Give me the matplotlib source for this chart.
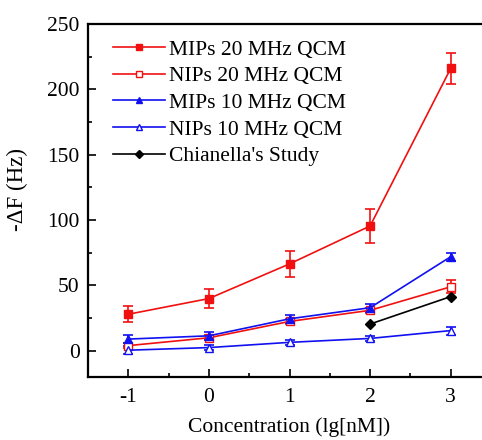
import matplotlib as mpl
mpl.use('Agg')
import matplotlib.pyplot as plt
from matplotlib.ticker import MultipleLocator
from matplotlib.lines import Line2D

plt.rcParams['font.family'] = 'Liberation Serif'
plt.rcParams['font.size'] = 15
plt.rcParams['axes.unicode_minus'] = False

# Concentration (lg[nM])
conc = [-1, 0, 1, 2, 3]
conc_chianella = [2, 3]

mips20 = [28, 40, 66.5, 95.5, 216]
mips20_err = [6, 7, 10, 13, 12]
nips20 = [4, 10, 22.5, 31, 49]
nips20_err = [2, 2, 2, 2, 5]
mips10 = [9, 11.5, 24.5, 33, 72]
mips10_err = [3, 3, 3, 3, 3]
nips10 = [0.5, 2.5, 6.5, 9.5, 15.5]
nips10_err = [3, 2, 2, 2, 3]
chianella = [20.5, 41.5]

legend_labels = ['MIPs 20 MHz QCM', 'NIPs 20 MHz QCM', 'MIPs 10 MHz QCM',
                 'NIPs 10 MHz QCM', "Chianella's Study"]

RED = '#f01010'
BLUE = '#1010f0'

fig = plt.figure(figsize=(4.82, 4.4), dpi=100)
# right spine sits outside the picture, as in the original crop
ax = fig.add_axes([88/482, 63/440, 403/482, 353/440])

common = dict(linewidth=1.2, capsize=3.5, elinewidth=1.2, capthick=1.2, markersize=6)
series = [
    (mips20, mips20_err, RED, 's', None),
    (nips20, nips20_err, RED, 's', 'white'),
    (mips10, mips10_err, BLUE, '^', None),
    (nips10, nips10_err, BLUE, '^', 'white'),
]
handles = []
for (vals, err, col, mk, mfc), lab in zip(series, legend_labels):
    ax.errorbar(conc, vals, yerr=err, color=col, marker=mk,
                mfc=mfc if mfc else col, **common)
    handles.append(Line2D([], [], color=col, marker=mk, linewidth=1.2,
                          markersize=4.5, mfc=mfc if mfc else col, label=lab))
ax.plot(conc_chianella, chianella, color='black', marker='D', markersize=5.5,
        linewidth=1.2)
handles.append(Line2D([], [], color='black', marker='D', linewidth=1.2,
                      markersize=4, label=legend_labels[4]))

ax.set_xlim(-1.5, 3.5)
ax.set_ylim(-20, 250)
ax.xaxis.set_major_locator(MultipleLocator(1))
ax.xaxis.set_minor_locator(MultipleLocator(0.5))
ax.yaxis.set_major_locator(MultipleLocator(50))
ax.yaxis.set_minor_locator(MultipleLocator(25))
ax.tick_params(which='major', direction='in', length=6, width=1.2, labelsize=15.5)
ax.tick_params(which='minor', direction='in', length=3, width=1.2)
ax.tick_params(axis='x', pad=8)
ax.tick_params(axis='y', pad=6)
for s in ax.spines.values():
    s.set_linewidth(1.6)

ax.set_xlabel('Concentration (lg[nM])', fontsize=15.5, labelpad=7)
ax.set_ylabel('-ΔF (Hz)', fontsize=16.5)
ax.yaxis.set_label_coords(-0.148, 0.53)

ax.legend(handles=handles, loc='upper left', frameon=False, fontsize=15.5,
          handlelength=2.4, handletextpad=0.2, labelspacing=0.3,
          borderpad=0, borderaxespad=0, bbox_to_anchor=(0.062, 0.955))

fig.savefig('out.png', dpi=100)
